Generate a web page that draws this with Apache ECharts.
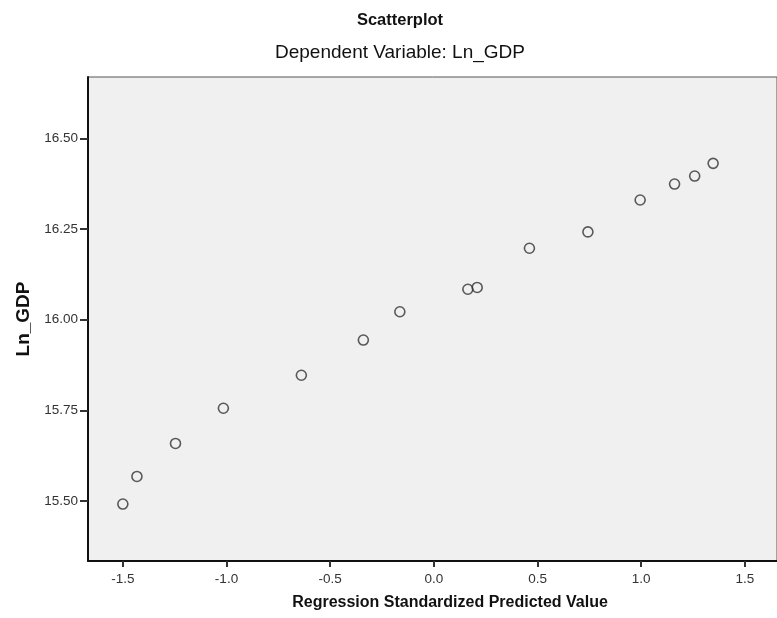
<!DOCTYPE html>
<html>
<head>
<meta charset="utf-8">
<script src="https://cdn.jsdelivr.net/npm/echarts@6/dist/echarts.min.js"></script>
<style>
  html, body { margin: 0; padding: 0; background: #fff; }
  #main { width: 777px; height: 618px; }
</style>
</head>
<body>
<div id="main"></div>
<script>
// predicted value (standardized) vs Ln_GDP
var predicted = [-1.500, -1.432, -1.246, -1.015, -0.639, -0.340, -0.164, 0.164, 0.209, 0.461, 0.743, 0.995, 1.161, 1.258, 1.347];
var lnGdp     = [15.492, 15.568, 15.659, 15.756, 15.847, 15.944, 16.022, 16.084, 16.089, 16.197, 16.242, 16.330, 16.374, 16.396, 16.431];
var xTicks = [-1.5, -1.0, -0.5, 0.0, 0.5, 1.0, 1.5];
var yTicks = [15.50, 15.75, 16.00, 16.25, 16.50];

var pts = [];
for (var i = 0; i < predicted.length; i++) {
  pts.push([predicted[i], lnGdp[i]]);
}

var myChart = echarts.init(document.getElementById('main'));
var font = 'Liberation Sans, Arial, sans-serif';

var option = {
  animation: false,
  title: [
    { text: 'Scatterplot', left: 395, top: 7, textAlign: 'center',
      textStyle: { fontFamily: font, fontSize: 16.5, fontWeight: 'bold', color: '#111' } },
    { text: 'Dependent Variable: Ln_GDP', left: 395, top: 38, textAlign: 'center',
      textStyle: { fontFamily: font, fontSize: 19, fontWeight: 'normal', color: '#111' } },
    { text: 'Regression Standardized Predicted Value', left: 445, top: 590, textAlign: 'center',
      textStyle: { fontFamily: font, fontSize: 16, fontWeight: 'bold', color: '#111' } }
  ],
  grid: {
    left: 88, top: 77, width: 699, bottom: 57,
    show: true, backgroundColor: '#f0f0f0', borderColor: '#555', borderWidth: 1
  },
  xAxis: {
    type: 'value', min: -1.668, max: 1.655,
    splitLine: { show: false },
    axisLine: { show: true, onZero: false, lineStyle: { color: '#111', width: 2 } },
    axisTick: { show: true, length: 6, lineStyle: { color: '#333', width: 2 },
      customValues: xTicks },
    axisLabel: { color: '#333', fontFamily: font, fontSize: 13.5, margin: 11,
      customValues: xTicks,
      formatter: function (v) { return v.toFixed(1); } }
  },
  yAxis: {
    type: 'value', min: 15.335, max: 16.669,
    name: 'Ln_GDP', nameLocation: 'middle', nameGap: 55, nameRotate: 90,
    nameTextStyle: { fontFamily: font, fontSize: 19, fontWeight: 'bold', color: '#111' },
    splitLine: { show: false },
    axisLine: { show: true, onZero: false, lineStyle: { color: '#111', width: 2 } },
    axisTick: { show: true, length: 8, lineStyle: { color: '#333', width: 2 },
      customValues: yTicks },
    axisLabel: { color: '#333', fontFamily: font, fontSize: 13.5, margin: 10,
      customValues: yTicks,
      formatter: function (v) { return v.toFixed(2); } }
  },
  series: [{
    type: 'scatter',
    data: pts,
    symbol: 'circle',
    symbolSize: 10,
    itemStyle: { color: 'rgba(0,0,0,0)', borderColor: '#333', borderWidth: 1.6 }
  }]
};

myChart.setOption(option);
</script>
</body>
</html>
